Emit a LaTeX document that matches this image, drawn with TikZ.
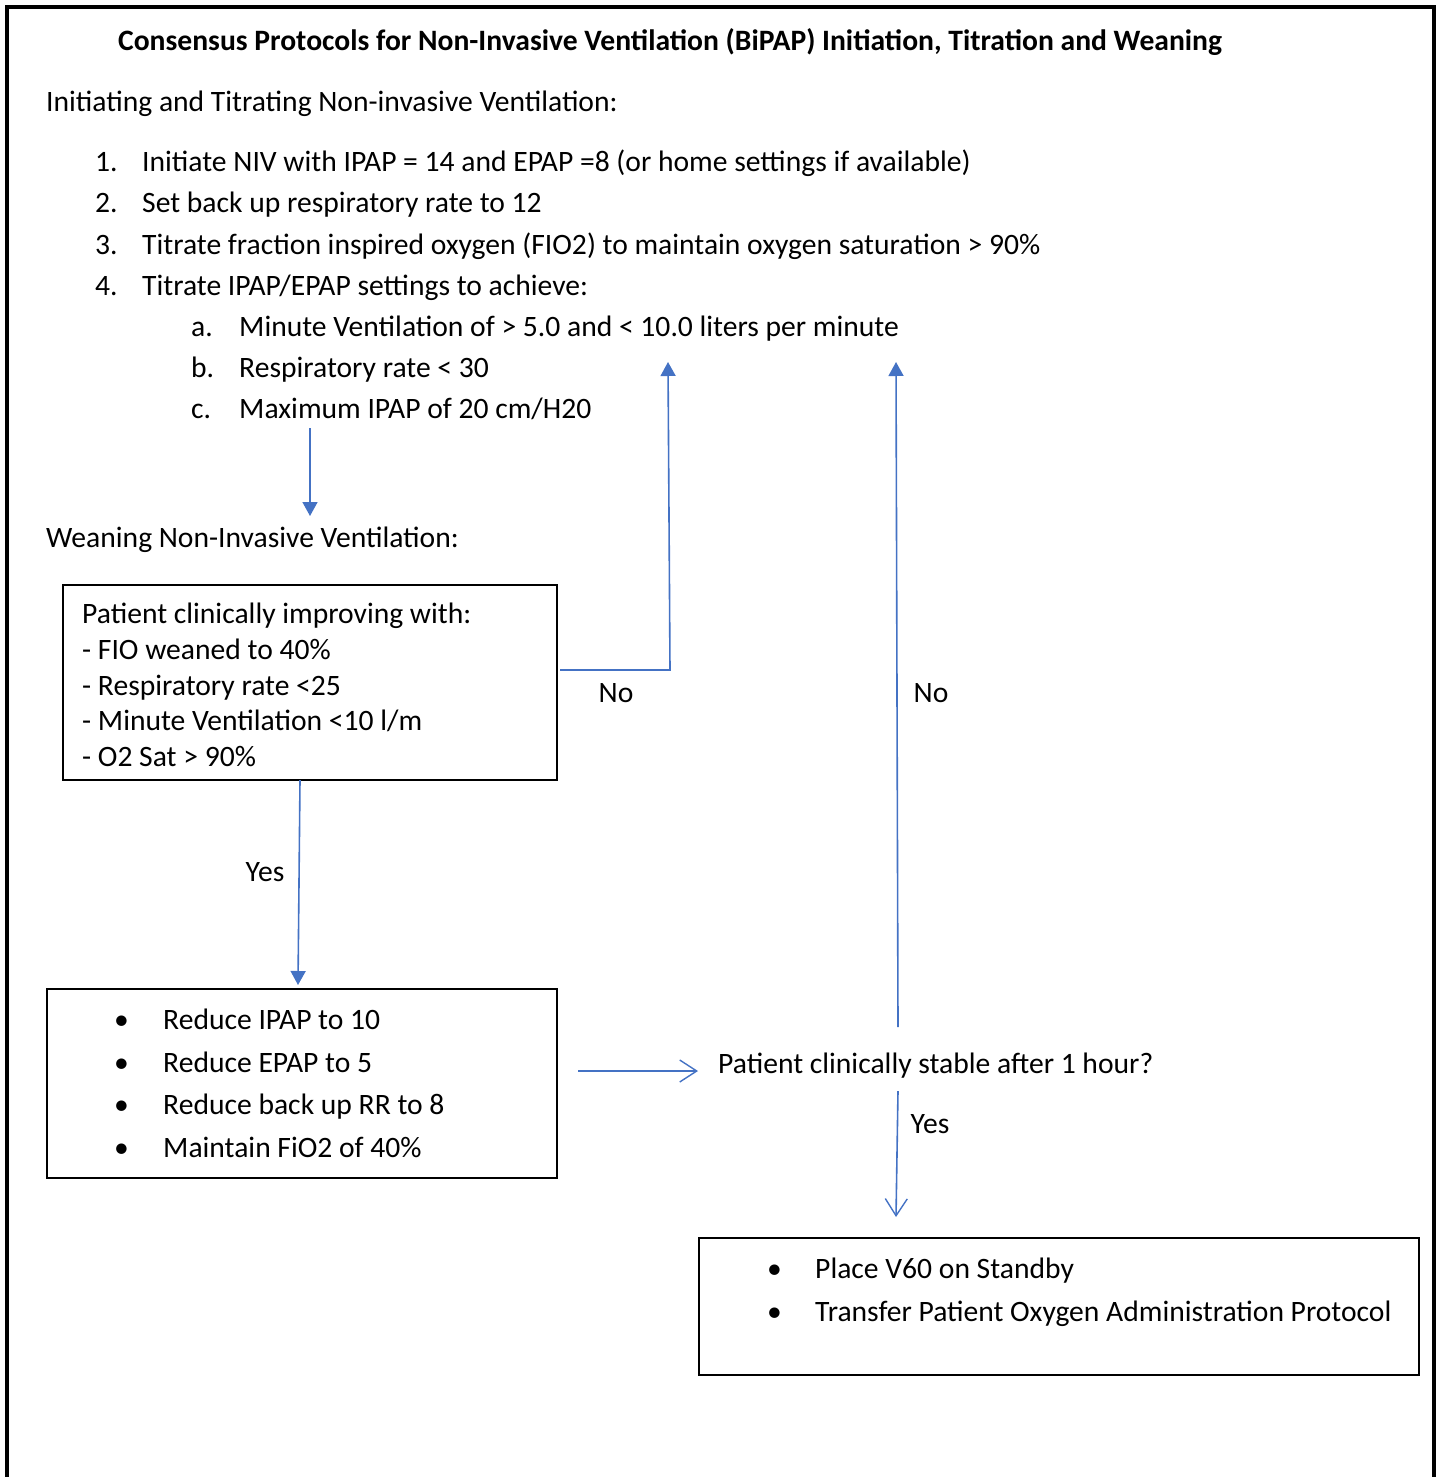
\documentclass[tikz,border=0pt]{standalone}
\usepackage{fontspec}
\setmainfont{Carlito}
\usetikzlibrary{arrows.meta}
\definecolor{arrowblue}{HTML}{4472C4}
\tikzset{
  txt/.style={anchor=base west, inner sep=0pt, font=\fontsize{29.6}{35}\selectfont},
  ctxt/.style={anchor=base, inner sep=0pt, font=\fontsize{29.6}{35}\selectfont},
  boxx/.style={draw=black, line width=2pt, anchor=north west, inner sep=0pt},
  conn/.style={draw=arrowblue, line width=1.6pt},
  filltip/.style={-{Triangle[length=14pt,width=15pt]}},
  opentip/.style={-{Straight Barb[length=17pt,width=22pt,line width=1.4pt]}}
}
\begin{document}
\begin{tikzpicture}[x=1pt,y=-1pt]
\useasboundingbox (0,0) rectangle (1440,1477);
\draw[line width=4pt] (7,1477) -- (7,7) -- (1434,7) -- (1434,1477);

\node[anchor=base, inner sep=0pt, font=\fontsize{29.6}{35}\selectfont\bfseries] (title) at (670,51)
  {Consensus Protocols for Non-Invasive Ventilation (BiPAP) Initiation, Titration and Weaning};

\node[txt] (h1) at (46,112) {Initiating and Titrating Non-invasive Ventilation:};
\node[txt] (n1) at (95,171) {1.};
\node[txt] (t1) at (142,171) {Initiate NIV with IPAP = 14 and EPAP =8 (or home settings if available)};
\node[txt] (n2) at (95,212) {2.};
\node[txt] (t2) at (142,212) {Set back up respiratory rate to 12};
\node[txt] (n3) at (95,254) {3.};
\node[txt] (t3) at (142,254) {Titrate fraction inspired oxygen (FIO2) to maintain oxygen saturation > 90\%};
\node[txt] (n4) at (95,295) {4.};
\node[txt] (t4) at (142,295) {Titrate IPAP/EPAP settings to achieve:};
\node[txt] (la) at (191,336) {a.};
\node[txt] (ta) at (239,336) {Minute Ventilation of > 5.0 and < 10.0 liters per minute};
\node[txt] (lb) at (191,377) {b.};
\node[txt] (tb) at (239,377) {Respiratory rate < 30};
\node[txt] (lc) at (191,418) {c.};
\node[txt] (tc) at (239,418) {Maximum IPAP of 20 cm/H20};

\node[txt] (h2) at (46,547) {Weaning Non-Invasive Ventilation:};

% Box 1
\node[boxx, minimum width=494pt, minimum height=195pt] (box1) at (62,584) {};
\node[txt] (b1a) at (82,623) {Patient clinically improving with:};
\node[txt] (b1b) at (82,659) {- FIO weaned to 40\%};
\node[txt] (b1c) at (82,695) {- Respiratory rate <25};
\node[txt] (b1d) at (82,730) {- Minute Ventilation <10 l/m};
\node[txt] (b1e) at (82,766) {- O2 Sat > 90\%};

% Box 2
\node[boxx, minimum width=510pt, minimum height=189pt] (box2) at (46,988) {};
\node[txt] (bu1) at (114,1029) {•};
\node[txt] (r1) at (163,1029) {Reduce IPAP to 10};
\node[txt] (bu2) at (114,1072) {•};
\node[txt] (r2) at (163,1072) {Reduce EPAP to 5};
\node[txt] (bu3) at (114,1114) {•};
\node[txt] (r3) at (163,1114) {Reduce back up RR to 8};
\node[txt] (bu4) at (114,1157) {•};
\node[txt] (r4) at (163,1157) {Maintain FiO2 of 40\%};

\node[txt] (stable) at (718,1073) {Patient clinically stable after 1 hour?};

% Box 3
\node[boxx, minimum width=720pt, minimum height=137pt] (box3) at (698,1237) {};
\node[txt] (bu5) at (767,1278) {•};
\node[txt] (p1) at (815,1278) {Place V60 on Standby};
\node[txt] (bu6) at (767,1321) {•};
\node[txt] (p2) at (815,1321) {Transfer Patient Oxygen Administration Protocol};

% labels
\node[ctxt] (no1) at (616,702) {No};
\node[ctxt] (no2) at (931,702) {No};
\node[ctxt] (yes1) at (265,881) {Yes};
\node[ctxt] (yes2) at (930,1133) {Yes};

% connector coordinates
\coordinate (a1s) at (310,428);
\coordinate (a1e) at (310,516);
\coordinate (n1s) at (560,670);
\coordinate (n1c) at (670,670);
\coordinate (n1e) at (668,362);
\coordinate (n2s) at (898,1027);
\coordinate (n2e) at (896,362);
\coordinate (y1s) at (300,780);
\coordinate (y1e) at (298,985);
\coordinate (rs) at (578,1071);
\coordinate (re) at (698,1071);
\coordinate (y2s) at (898,1091);
\coordinate (y2e) at (896,1217);

\draw[conn, filltip] (a1s) -- (a1e);
\draw[conn, filltip] (n1s) -- (n1c) -- (n1e);
\draw[conn, filltip] (n2s) -- (n2e);
\draw[conn, filltip] (y1s) -- (y1e);
\draw[conn, opentip] (rs) -- (re);
\draw[conn, opentip] (y2s) -- (y2e);
\end{tikzpicture}
\end{document}
